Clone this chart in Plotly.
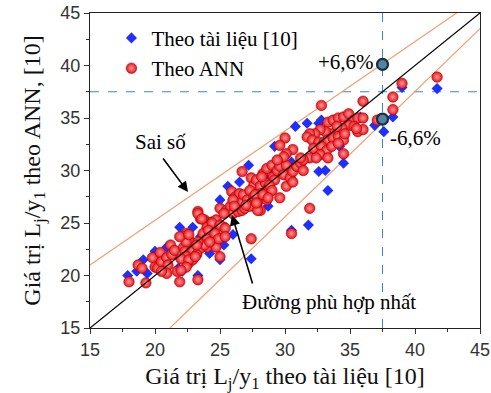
import plotly.graph_objects as go

# ---- data ----
ann_x = [18.0, 18.7, 19.0, 19.3, 19.8, 20.0, 20.2, 20.4, 20.5, 20.9, 21.0, 21.2, 21.3, 21.5, 20.9, 21.9, 23.3,
         27.4, 27.6, 27.8, 28.1, 28.3, 28.5, 28.6, 28.7, 29.0, 29.1, 29.2, 29.4, 29.6, 29.9, 30.1, 30.1, 30.4, 30.6, 30.6, 30.9, 31.2, 31.4, 26.7,
         25.9, 26.2, 26.5, 26.7, 26.8, 27.1, 27.3, 27.4, 27.6, 27.9, 28.1, 28.2, 28.6, 29.6,
         25.0, 25.5, 25.8, 26.0, 26.4, 26.7, 26.9, 27.3, 27.9,
         23.3, 23.5, 23.8, 24.1, 24.4, 24.7, 24.5, 24.0, 23.7, 24.2, 25.0, 25.3, 23.5, 24.0, 24.5, 24.7, 22.4, 22.6, 22.2, 22.7, 22.9, 23.2, 22.4, 22.6, 22.9, 25.0,
         27.4, 30.5,
         32.8, 33.3, 33.7, 34.1, 34.5, 34.9, 35.3, 35.6, 34.9, 35.3, 35.6, 36.0, 34.4, 34.0, 33.5, 33.1, 32.7, 32.3, 31.9, 31.7, 32.1, 32.6, 33.0, 33.3, 33.7, 34.1, 34.5, 34.6,
         32.2, 32.8, 33.2, 33.6, 34.1, 34.5, 32.7, 33.3, 31.9, 32.4, 31.4, 31.2, 30.6, 30.0, 29.6, 30.1, 29.9, 29.4, 31.9,
         41.7, 39.0, 36.0, 38.3, 38.3, 36.0, 37.1, 35.5,
         28.2, 28.8, 29.0, 27.7, 28.3, 28.7, 26.0, 27.0, 27.8, 26.1, 25.3, 23.3, 23.6, 24.4, 25.0, 24.1, 24.0, 24.6, 24.9,
         25.4, 25.4, 22.2, 22.4, 22.3, 22.9, 23.5, 23.8, 24.2, 23.2, 22.4, 23.3,
         20.5, 21.7, 22.0, 22.6, 23.1, 22.4, 22.0, 21.9, 22.6, 23.2]
ann_y = [19.4, 21.0, 20.7, 19.3, 21.7, 20.8, 20.7, 22.2, 21.3, 21.7, 21.0, 22.9, 22.0, 22.4, 20.2, 19.4, 19.6,
         29.3, 28.6, 29.1, 28.5, 29.7, 28.8, 30.2, 28.3, 30.5, 29.4, 29.1, 30.0, 30.4, 29.6, 30.5, 28.5, 29.3, 29.9, 28.9, 30.4, 30.7, 30.0, 29.9,
         28.0, 27.5, 27.8, 27.0, 27.7, 27.2, 28.1, 26.9, 27.5, 27.0, 26.2, 27.8, 27.2, 27.4,
         26.4, 26.2, 26.6, 25.9, 26.1, 26.2, 26.4, 26.6, 26.2,
         26.1, 25.4, 25.3, 25.0, 25.1, 25.3, 24.6, 24.6, 24.0, 23.7, 24.2, 24.6, 23.1, 22.7, 23.4, 22.7, 24.0, 23.4, 22.7, 22.6, 23.1, 22.1, 21.8, 21.2, 21.5, 21.8,
         23.5, 24.0,
         36.2, 34.6, 34.8, 35.0, 35.1, 35.4, 34.8, 35.0, 34.3, 34.2, 33.7, 33.9, 34.0, 34.2, 33.5, 33.7, 33.9, 33.5, 33.5, 33.2, 32.9, 32.7, 32.7, 32.9, 33.1, 33.2, 32.9, 33.5,
         32.1, 32.3, 31.9, 32.3, 32.6, 31.6, 31.5, 31.2, 31.2, 31.2, 31.0, 31.2, 32.0, 33.1, 32.4, 31.6, 31.3, 31.0, 26.4,
         38.9, 38.3, 36.6, 37.0, 35.8, 35.0, 34.8, 34.0,
         29.4, 28.6, 28.1, 27.7, 27.7, 27.4, 27.2, 26.7, 26.9, 26.6, 25.9, 25.9, 25.4, 25.0, 24.8, 24.3, 23.5, 24.0, 23.5,
         24.5, 23.7, 23.7, 23.2, 22.3, 22.4, 22.6, 22.9, 23.2, 22.0, 21.8, 23.2,
         20.4, 20.4, 21.6, 21.5, 21.8, 20.8, 20.5, 23.7, 23.9, 22.9]

ref_x = [17.9, 18.6, 19.1, 19.4, 20.0, 20.5, 20.9, 21.8, 22.1, 21.9, 23.3, 24.2, 25.0,
         27.2, 25.6, 25.0, 26.5, 28.7, 25.3, 27.4, 30.5, 31.8, 22.9, 23.5, 22.7, 23.2, 25.0, 26.0, 24.5, 29.2,
         30.8, 31.7, 32.6, 32.8, 35.8, 37.6, 29.2, 30.5, 31.0, 32.6, 33.1, 34.5, 33.3, 34.2, 32.2, 28.6,
         41.7, 39.0, 38.3, 36.9]
ref_y = [20.0, 20.4, 21.5, 20.2, 22.3, 21.8, 22.7, 20.7, 20.4, 24.6, 20.0, 22.1, 23.9,
         30.5, 28.5, 27.2, 28.9, 26.6, 22.9, 21.6, 24.3, 24.8, 24.6, 23.7, 22.7, 22.4, 21.5, 23.9, 24.0, 29.8,
         34.2, 34.5, 34.5, 34.8, 35.1, 33.7, 32.3, 30.8, 30.5, 29.9, 30.0, 30.7, 28.1, 32.3, 31.3, 29.2,
         37.8, 37.9, 35.1, 34.3]

fit_x = [15, 45]
fit_y = [15, 45]
upper_x = [15, 43.2]
upper_y = [21.0, 45]
lower_x = [21.15, 45]
lower_y = [15, 43.5]
ref_value = 37.5
bound_pts_x = [37.5, 37.5]
bound_pts_y = [40.1, 34.9]
axis_ticks = [15, 20, 25, 30, 35, 40, 45]

SERIF = "Liberation Serif, Times New Roman, serif"
SANS = "Liberation Sans, Arial, sans-serif"

fig = go.Figure()

# reference guide lines
fig.add_trace(go.Scatter(x=[15, 45], y=[ref_value, ref_value], mode="lines",
                         line=dict(color="#3a86c8", width=1, dash="dash"), showlegend=False, hoverinfo="skip"))
fig.add_trace(go.Scatter(x=[ref_value, ref_value], y=[15, 45], mode="lines",
                         line=dict(color="#3a86c8", width=1, dash="dash"), showlegend=False, hoverinfo="skip"))
# error bounds
fig.add_trace(go.Scatter(x=upper_x, y=upper_y, mode="lines",
                         line=dict(color="#f0a070", width=1.2), showlegend=False, hoverinfo="skip"))
fig.add_trace(go.Scatter(x=lower_x, y=lower_y, mode="lines",
                         line=dict(color="#f0a070", width=1.2), showlegend=False, hoverinfo="skip"))

fig.add_trace(go.Scatter(x=ref_x, y=ref_y, mode="markers", name="Theo tài liệu [10]",
                         marker=dict(symbol="diamond", size=8.5, color="#1f2fff", line=dict(width=0))))
fig.add_trace(go.Scatter(x=ann_x, y=ann_y, mode="markers", name="Theo ANN",
                         marker=dict(symbol="circle", size=10.5, color="#e8141a",
                                     gradient=dict(type="radial", color="#ff9a9a"),
                                     line=dict(width=0.6, color="#b00000"))))
# best-fit line
fig.add_trace(go.Scatter(x=fit_x, y=fit_y, mode="lines",
                         line=dict(color="black", width=1.2), showlegend=False, hoverinfo="skip"))
# bound markers
fig.add_trace(go.Scatter(x=bound_pts_x, y=bound_pts_y, mode="markers", showlegend=False, hoverinfo="skip",
                         marker=dict(symbol="circle", size=11, color="#4f86a8",
                                     line=dict(width=2.2, color="#1c2d3c"))))

afont = dict(family=SERIF, size=21, color="black")
annotations = [
    dict(x=34.69, y=40.33, text="+6,6%", showarrow=False, font=afont),
    dict(x=40.0, y=33.1, text="-6,6%", showarrow=False, font=afont),
    dict(x=20.46, y=32.71, text="Sai số", showarrow=False, font=afont),
    dict(x=33.38, y=17.48, text="Đường phù hợp nhất", showarrow=False, font=afont),
    dict(x=22.54, y=27.95, text="", showarrow=True, ax=-26, ay=-35, arrowhead=2, arrowsize=1.3,
         arrowwidth=1.6, arrowcolor="black"),
    dict(x=25.92, y=25.76, text="", showarrow=True, ax=21, ay=70, arrowhead=2, arrowsize=1.3,
         arrowwidth=1.6, arrowcolor="black"),
]
for a in annotations:
    a.setdefault("xref", "x")
    a.setdefault("yref", "y")

axis_common = dict(range=[15, 45], tickvals=axis_ticks, ticks="outside", ticklen=5, tickwidth=1,
                   tickcolor="#333", showline=True, linecolor="#222", linewidth=1.2, mirror=True,
                   showgrid=False, zeroline=False, automargin=False,
                   tickfont=dict(family=SANS, size=18, color="#333"),
                   minor=dict(dtick=2.5, tick0=15, ticks="outside", ticklen=3, tickcolor="#333", showgrid=False))

fig.update_layout(
    width=491, height=393,
    margin=dict(l=90, r=11, t=13, b=65),
    paper_bgcolor="white", plot_bgcolor="white",
    xaxis=dict(**axis_common,
               title=dict(text="Giá trị L<sub>j</sub>/y<sub>1</sub> theo tài liệu [10]",
                          font=dict(family=SERIF, size=24, color="#111"), standoff=12)),
    yaxis=dict(**axis_common,
               title=dict(text="Giá trị L<sub>j</sub>/y<sub>1</sub> theo ANN, [10]",
                          font=dict(family=SERIF, size=24, color="#111"), standoff=12)),
    legend=dict(x=0.055, y=0.985, xanchor="left", yanchor="top", bgcolor="rgba(0,0,0,0)",
                font=dict(family=SERIF, size=21, color="black"), itemwidth=30, tracegroupgap=0),
    annotations=annotations,
    showlegend=True,
)

fig.write_html("out.html")
